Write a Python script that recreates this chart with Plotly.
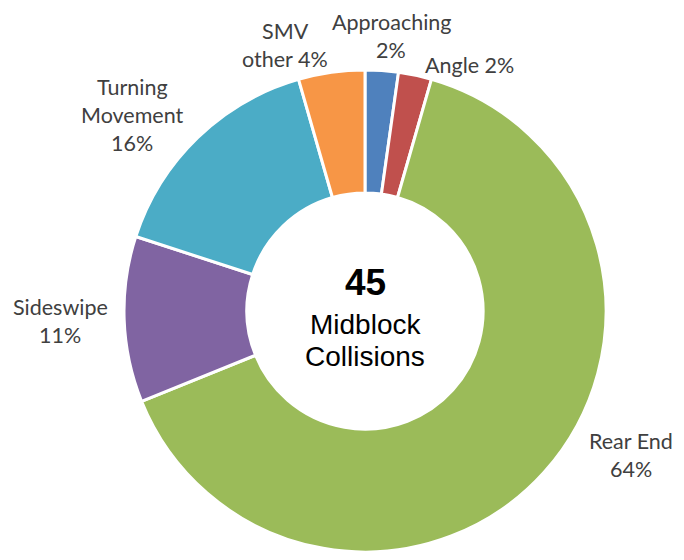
import plotly.graph_objects as go

categories = ["Approaching", "Angle", "Rear End", "Sideswipe", "Turning Movement", "SMV other"]
counts = [1, 1, 29, 5, 7, 2]
colors = ["#4F81BD", "#C0504D", "#9BBB59", "#8064A2", "#4BACC6", "#F79646"]
label_lines = [["Approaching", "{p}"], ["Angle {p}"], ["Rear End", "{p}"],
               ["Sideswipe", "{p}"], ["Turning", "Movement", "{p}"], ["SMV", "other {p}"]]
total = sum(counts)
center_lines = ["Midblock", "Collisions"]

OFF = 8  # page body margin
W, H = 684 - 2 * OFF, 560 - 2 * OFF
cx, cy, r = 365 - OFF, 311 - OFF, 241

fig = go.Figure(go.Pie(
    labels=categories, values=counts, sort=False, direction="clockwise", rotation=0,
    hole=0.49, marker=dict(colors=colors, line=dict(color="white", width=3)),
    textinfo="none", hoverinfo="label+percent", showlegend=False,
    domain=dict(x=[(cx - r) / W, (cx + r) / W],
                y=[max(0, (H - cy - r) / H), min(1, (H - cy + r) / H)]),
))

# label anchor positions (page pixels, top-left origin): x centre, first-line y centre
label_pos = [(391, 22), (470, 65), (631, 441), (60, 307), (132, 87), (285, 31)]
LINE = 28

def px(x, y):
    return (x - OFF) / W, 1 - (y - OFF) / H

anns = []
for cat, n, lines, (x, y) in zip(categories, counts, label_lines, label_pos):
    p = f"{round(100 * n / total)}%"
    for i, l in enumerate(lines):
        ax, ay = px(x, y + LINE * i)
        anns.append(dict(x=ax, y=ay, xref="paper", yref="paper", text=l.format(p=p),
                         showarrow=False, xanchor="center", yanchor="middle", borderpad=0,
                         font=dict(family="Lato", size=21.5, color="#404040")))

ax, ay = px(365, 282)
anns.append(dict(x=ax, y=ay, xref="paper", yref="paper", text=f"<b>{total}</b>",
                 showarrow=False, font=dict(family="Liberation Sans", size=37, color="black")))
for i, line in enumerate(center_lines):
    ax, ay = px(365, 324 + 32 * i)
    anns.append(dict(x=ax, y=ay, xref="paper", yref="paper", text=line,
                     showarrow=False, font=dict(family="Liberation Sans", size=28, color="black")))

fig.update_layout(width=W, height=H, margin=dict(l=0, r=0, t=0, b=0),
                  paper_bgcolor="white", plot_bgcolor="white", annotations=anns)
fig.write_html("out.html")
